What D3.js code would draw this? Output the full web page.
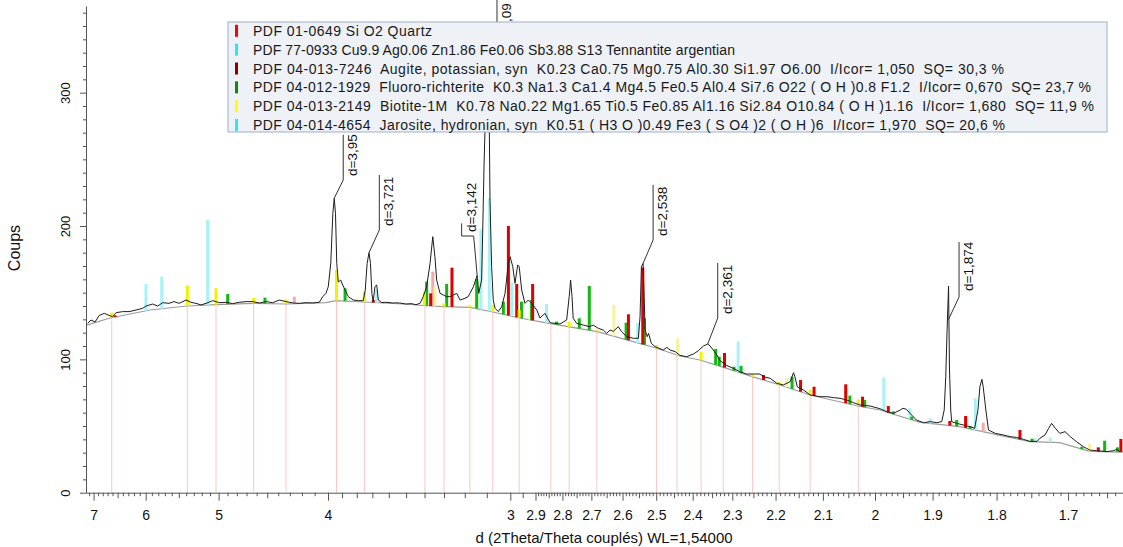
<!DOCTYPE html>
<html><head><meta charset="utf-8">
<script src="https://cdn.jsdelivr.net/npm/d3@7"></script>
<style>
body{margin:0;background:#fff;}
svg text{font-family:"Liberation Sans",Arial,sans-serif;}
</style></head><body>
<svg id="chart" width="1123" height="547"></svg>
<script>
// ---------------- DATA ----------------
const xTickLabels = [7,6,5,4,3,2.9,2.8,2.7,2.6,2.5,2.4,2.3,2.2,2.1,2,1.9,1.8,1.7];
const yTickLabels = [0,100,200,300];

// background (d, counts)
const bgD = [7.174,6.650,5.930,5.389,5.030,4.626,4.324,4.015,3.942,3.753,3.518,3.371,3.300,3.176,3.073,2.961,2.864,2.780,2.681,2.592,2.501,2.434,2.381,2.325,2.253,2.190,2.126,2.032,1.991,1.921,1.856,1.795,1.752,1.711,1.672,1.6304];
const bgCounts = [125.5,131,137,140,141,142,141.5,142.5,144,143,141.5,140,139.5,139,135.5,131,127.5,124.5,120.8,115,108.5,102.5,99.5,94.4,87,80.8,73.3,65,62,52.7,49.5,43,38.3,37.5,31,30.5];

// observed scan (d, counts)
const obsD = [7.134,7.058,6.968,6.874,6.768,6.671,6.600,6.531,6.403,6.287,6.163,6.049,5.995,5.887,5.808,5.732,5.639,5.567,5.497,5.402,5.337,5.272,5.210,5.148,5.068,4.992,4.917,4.844,4.774,4.705,4.639,4.574,4.511,4.450,4.391,4.333,4.276,4.221,4.168,4.115,4.065,4.039,4.015,3.998,3.980,3.965,3.955,3.946,3.937,3.926,3.909,3.898,3.879,3.857,3.823,3.790,3.758,3.745,3.733,3.721,3.712,3.703,3.695,3.684,3.673,3.663,3.642,3.617,3.577,3.539,3.501,3.473,3.446,3.424,3.407,3.389,3.371,3.357,3.346,3.337,3.320,3.304,3.287,3.271,3.254,3.238,3.222,3.199,3.184,3.176,3.160,3.143,3.136,3.123,3.118,3.112,3.108,3.101,3.097,3.090,3.086,3.079,3.072,3.064,3.050,3.036,3.022,3.008,3.001,2.990,2.981,2.970,2.964,2.954,2.941,2.928,2.915,2.895,2.883,2.864,2.845,2.809,2.785,2.776,2.771,2.766,2.762,2.750,2.727,2.705,2.694,2.677,2.661,2.650,2.639,2.629,2.613,2.603,2.587,2.567,2.552,2.547,2.543,2.538,2.535,2.532,2.526,2.522,2.514,2.503,2.480,2.470,2.461,2.447,2.434,2.416,2.398,2.385,2.372,2.361,2.355,2.347,2.338,2.330,2.314,2.298,2.282,2.266,2.250,2.235,2.227,2.212,2.197,2.183,2.168,2.161,2.158,2.153,2.140,2.126,2.106,2.092,2.079,2.066,2.053,2.040,2.028,2.009,1.991,1.979,1.967,1.955,1.950,1.944,1.938,1.927,1.915,1.904,1.893,1.885,1.881,1.8785,1.8765,1.874,1.8725,1.8705,1.869,1.861,1.851,1.840,1.833,1.828,1.825,1.822,1.820,1.816,1.812,1.802,1.790,1.780,1.771,1.761,1.752,1.742,1.738,1.731,1.726,1.722,1.717,1.711,1.704,1.697,1.689,1.680,1.672,1.663,1.650,1.642,1.638,1.634];
const obsCounts = [127,129.5,128,133,134.5,133,132,135,135.8,135.8,137,138.3,140,141.5,140,142.5,142,143.3,142,144.5,142.8,142,140.8,142,144,142.5,142.8,141.8,142.8,143.3,143.3,142.3,143.3,142.5,144.5,143.3,142.3,142,142.5,142.3,142.8,147,149.5,154.5,172,209.5,220.8,209.5,172,158,159.5,156.5,152,147,144.5,144,144,152,172,180,172,149.5,143.3,154.5,155.8,144.5,142.5,142.8,142.3,142.3,141.5,141.8,141,142,147,154.5,172,192,177,159.5,149.5,148.3,147,147,148.3,149.5,144.5,145.8,147,149.5,154.5,163,149.5,159.5,197,247,272,330,335,290,219,169.5,144.5,138.3,135.8,139.5,149.5,172,177,169.5,157,170.8,169.5,152,142,144.5,142,137,131,134.5,127.5,126.5,129.5,147,159.5,147,130.8,127,125.7,124.5,125.7,123.3,122,119.5,122,121,124.5,120.8,117,115.8,115.8,132,169.5,172,147,122,117,119.5,112,109.5,107,109,107,105.8,103,102,104,106.5,110,111.5,110,107,103.3,99,95.5,93.3,90.8,89,89,89,87,85.8,82,80.8,83.3,90,87,79.5,77,73.3,72,72,71.3,70.8,69.5,67.5,65.8,65,63,60.8,59.5,62,63.3,62.5,59.5,54.5,52.5,53.3,52.5,53.3,62,87,120,155,92,62,53.3,52,50.8,49.5,48.3,62,79.5,85,79.5,62,47,44.5,43.3,42,41.5,40,38.5,38.5,40.8,43.3,48.3,52,48.3,44.5,45.8,42,38.3,34.5,32,31.5,30.8,31.5,32.5,30.8];

// reference sticks: d and top count
const quartzD = [4.263,3.357,1.820];
const quartzTop = [147,165.8,52.5];
const tennantiteD = [2.994,2.858,2.554,1.832];
const tennantiteTop = [157.3,141.5,127.5,70.8];
const augiteD = [6.551,3.694,3.368,3.261,3.008,2.974,2.911,2.582,2.539,2.319,2.227,2.146,2.118,2.055,2.023,1.976,1.872,1.847,1.766,1.661,1.633];
const augiteTop = [133,144.5,149.5,168.8,200,156.5,156.5,133.8,168.8,104.8,88.3,84.5,79.5,81.3,72,65,53.8,57.5,47,34,40.3];
const richteriteD = [4.898,4.521,3.879,3.389,3.287,3.145,3.029,2.955,2.915,2.821,2.741,2.707,2.589,2.534,2.341,2.332,2.296,2.279,2.164,2.047,2.019,1.967,1.935,1.861,1.840,1.749,1.682,1.653,1.637];
const richteriteTop = [149,146.3,153.3,158.3,156.5,160.3,143.3,143.3,144.5,128.3,130.8,155,127.5,130.8,107.8,102,94.5,95,87,72.8,69.5,61,57,54.5,50,40.5,34.5,39,34];
const biotiteD = [6.616,5.385,5.030,4.629,4.333,3.939,3.751,3.401,3.300,3.176,3.074,2.964,2.842,2.776,2.682,2.499,2.378,2.252,2.192,2.126,2.031];
const biotiteTop = [135,155.3,153.3,146,145,167,150.8,150.8,142,140.5,140.8,137,127,128.3,122.3,110.8,105.8,89,83,77,70];
const biotiteFaintD = [3.346,3.148,2.921,2.627,2.440,2.176,1.672];
const biotiteFaintTop = [154.5,147,135.8,140.8,115.8,85.8,37];
const jarositeD = [5.995,5.747,5.128,3.673,3.564,3.126,3.089,2.286,1.984,1.938,1.904,1.745,1.724];
const jarositeTop = [156.5,162,204.5,152,142.8,197.5,220.8,113.3,86.3,63.3,55.8,40.8,41.3];
const dropLinesD = [6.616,5.385,5.030,4.629,4.333,3.939,3.751,3.398,3.300,3.176,3.074,2.964,2.842,2.776,2.682,2.499,2.442,2.378,2.322,2.252,2.192,2.126,2.031];

// peak labels
const peakLabels = ["d=3,95","d=3,721","d=3,142","d=3,09","d=2,538","d=2,361","d=1,874"];
const peakLabelD = [3.955,3.721,3.143,3.097,2.538,2.361,1.874];
const peakLabelCounts = [220.8,180,163,335,172,111.5,130];

// legend
const legendLabels = [
 "PDF 01-0649 Si O2 Quartz",
 "PDF 77-0933 Cu9.9 Ag0.06 Zn1.86 Fe0.06 Sb3.88 S13 Tennantite argentian",
 "PDF 04-013-7246  Augite, potassian, syn  K0.23 Ca0.75 Mg0.75 Al0.30 Si1.97 O6.00  I/Icor= 1,050  SQ= 30,3 %",
 "PDF 04-012-1929  Fluoro-richterite  K0.3 Na1.3 Ca1.4 Mg4.5 Fe0.5 Al0.4 Si7.6 O22 ( O H )0.8 F1.2  I/Icor= 0,670  SQ= 23,7 %",
 "PDF 04-013-2149  Biotite-1M  K0.78 Na0.22 Mg1.65 Ti0.5 Fe0.85 Al1.16 Si2.84 O10.84 ( O H )1.16  I/Icor= 1,680  SQ= 11,9 %",
 "PDF 04-014-4654  Jarosite, hydronian, syn  K0.51 ( H3 O )0.49 Fe3 ( S O4 )2 ( O H )6  I/Icor= 1,970  SQ= 20,6 %"
];

// ---------------- STYLE / LAYOUT ----------------
const legendColors = ["#ff0000","#30e4f0","#8b0000","#0e8a0e","#ffff00","#30e4f0"];
const legendTextWidths = [179, 482, 751, 838, 841, 752];
const leaderLayout = [
 {dx1:9,dx2:9,knee:234.5,top:268.5,tdy:0},
 {dx1:10.3,dx2:10.3,knee:197,top:238.3,tdy:0},
 {dx1:-3.5,dx2:-15.5,knee:192.5,top:202,tdy:0},
 {dx1:9.5,dx2:9.5,knee:347,top:372,tdy:19},
 {dx1:10,dx2:10,knee:189.5,top:230.8,tdy:0},
 {dx1:10,dx2:10,knee:131,top:172.3,tdy:0},
 {dx1:10.5,dx2:10.5,knee:146.8,top:188,tdy:-2}
];

const svg = d3.select("#chart");
const x = d3.scaleLinear().domain([1/7.174, 1/1.6304]).range([86, 1123]);
const X = d => x(1/d);
const y = d3.scaleLinear().domain([0, 365]).range([492.7, 6]);

const bgQ = bgD.map(d => 1/d);
function bgAt(d){
  const q = 1/d;
  let i = d3.bisectLeft(bgQ, q);
  if (i <= 0) return bgCounts[0];
  if (i >= bgQ.length) return bgCounts[bgQ.length-1];
  const t = (q - bgQ[i-1])/(bgQ[i]-bgQ[i-1]);
  return bgCounts[i-1] + t*(bgCounts[i]-bgCounts[i-1]);
}

// drop lines
svg.append("g").selectAll("line").data(dropLinesD).join("line")
  .attr("x1", X).attr("x2", X)
  .attr("y1", d => y(bgAt(d))).attr("y2", y(0))
  .attr("stroke", "#f9c8c8").attr("stroke-width", 1);

// background
const line = d3.line().x(p => X(p[0])).y(p => y(p[1]));
svg.append("path").datum(d3.zip(bgD, bgCounts)).attr("d", line)
  .attr("fill", "none").attr("stroke", "#9c9c9c").attr("stroke-width", 1.2);

// sticks
const phases = [
  {d: jarositeD, top: jarositeTop, color: "#a6f2f6"},
  {d: tennantiteD, top: tennantiteTop, color: "#a6f2f6"},
  {d: quartzD, top: quartzTop, color: "#f6aaaa"},
  {d: biotiteFaintD, top: biotiteFaintTop, color: "#f6f39c"},
  {d: richteriteD, top: richteriteTop, color: "#11b811"},
  {d: augiteD, top: augiteTop, color: "#e00000"},
  {d: biotiteD, top: biotiteTop, color: "#f2f200"}
];
phases.forEach(ph => {
  svg.append("g").selectAll("rect").data(d3.zip(ph.d, ph.top)).join("rect")
    .attr("x", p => X(p[0]) - 1.5).attr("width", 3)
    .attr("y", p => y(p[1]))
    .attr("height", p => Math.max(0.5, y(bgAt(p[0])) - y(p[1])))
    .attr("fill", ph.color);
});

// observed scan
svg.append("path").datum(d3.zip(obsD, obsCounts)).attr("d", line)
  .attr("fill", "none").attr("stroke", "#1e1e1e").attr("stroke-width", 1)
  .attr("stroke-linejoin", "round");

// axes
const axisColor = "#555";
const fmt = v => String(+(1/v).toFixed(1));
const xAxis = svg.append("g").attr("transform", `translate(0,${y(0)})`)
  .call(d3.axisBottom(x).tickValues(xTickLabels.map(d => 1/d)).tickFormat(fmt).tickSize(8).tickSizeOuter(0));
const minorD = [], mediumD = [];
for (let k = 30; k <= 71; k++) {
  const d = k/10; if (k % 10 === 0) continue;
  if (d < 4 || k % 5 === 0) mediumD.push(d); else minorD.push(d);
}
mediumD.push(2.95);
for (let k = 164; k < 290; k++) {
  if (k % 10 === 0) continue;
  if (k % 5 === 0) mediumD.push(k/100); else minorD.push(k/100);
}
svg.append("g").attr("transform", `translate(0,${y(0)})`)
  .call(d3.axisBottom(x).tickValues(minorD.map(d => 1/d)).tickFormat("").tickSize(3.5).tickSizeOuter(0))
  .call(g => g.select(".domain").remove());
svg.append("g").attr("transform", `translate(0,${y(0)})`)
  .call(d3.axisBottom(x).tickValues(mediumD.map(d => 1/d)).tickFormat("").tickSize(5.5).tickSizeOuter(0))
  .call(g => g.select(".domain").remove());
xAxis.selectAll("text").attr("y", 17).attr("font-size", 14).attr("fill", "#111")
  .attr("font-family", "Liberation Sans, Arial, sans-serif");

const yAxis = svg.append("g").attr("transform", "translate(86,0)")
  .call(d3.axisLeft(y).tickValues(yTickLabels).tickSize(6).tickSizeOuter(0));
svg.append("g").attr("transform", "translate(86,0)")
  .call(d3.axisLeft(y).tickValues(d3.range(10, 365, 10).filter(v => v % 100 !== 0)).tickFormat("").tickSize(3).tickSizeOuter(0))
  .call(g => g.select(".domain").remove());
yAxis.selectAll("text").attr("transform", "rotate(-90)").attr("x", 0).attr("y", -16).attr("dy", 0)
  .attr("text-anchor", "middle").attr("font-size", 13).attr("fill", "#111")
  .attr("font-family", "Liberation Sans, Arial, sans-serif");
svg.selectAll(".domain, .tick line").attr("stroke", axisColor);

// axis titles
svg.append("text").attr("transform", "translate(20,248) rotate(-90)").attr("text-anchor", "middle")
  .attr("font-size", 16).attr("fill", "#111").text("Coups");
svg.append("text").attr("x", 604).attr("y", 543).attr("text-anchor", "middle")
  .attr("font-size", 15).attr("fill", "#111").text("d (2Theta/Theta couplés) WL=1,54000");

// peak label leaders
const lbl = svg.append("g");
peakLabels.forEach((t, i) => {
  const px = X(peakLabelD[i]), py = y(peakLabelCounts[i]);
  const L = leaderLayout[i];
  const k1 = px + L.dx1, k2 = px + L.dx2, ky = y(L.knee), ty = y(L.top);
  lbl.append("path").attr("d", `M${px},${py}L${k1},${ky}L${k2},${ky}L${k2},${ty}`)
    .attr("fill", "none").attr("stroke", "#333").attr("stroke-width", 1);
  lbl.append("text").attr("transform", `translate(${k2 + 14},${ky - 4 + L.tdy}) rotate(-90)`)
    .attr("font-size", 13.5).attr("fill", "#111").text(t);
});

// legend
const lg = svg.append("g");
lg.append("rect").attr("x", 228).attr("y", 22).attr("width", 879).attr("height", 110)
  .attr("fill", "#eef1f6").attr("stroke", "#9fb0c8").attr("stroke-width", 1);
legendLabels.forEach((t, i) => {
  const cy = 30.8 + i*18.85;
  lg.append("rect").attr("x", 235).attr("y", cy - 6).attr("width", 3).attr("height", 12).attr("fill", legendColors[i]);
  lg.append("text").attr("x", 253).attr("y", cy + 5).attr("font-size", 14).attr("fill", "#1a1a1a")
    .attr("xml:space", "preserve").style("white-space", "pre")
    .attr("textLength", legendTextWidths[i]).attr("lengthAdjust", "spacing").text(t);
});
</script>
</body></html>
